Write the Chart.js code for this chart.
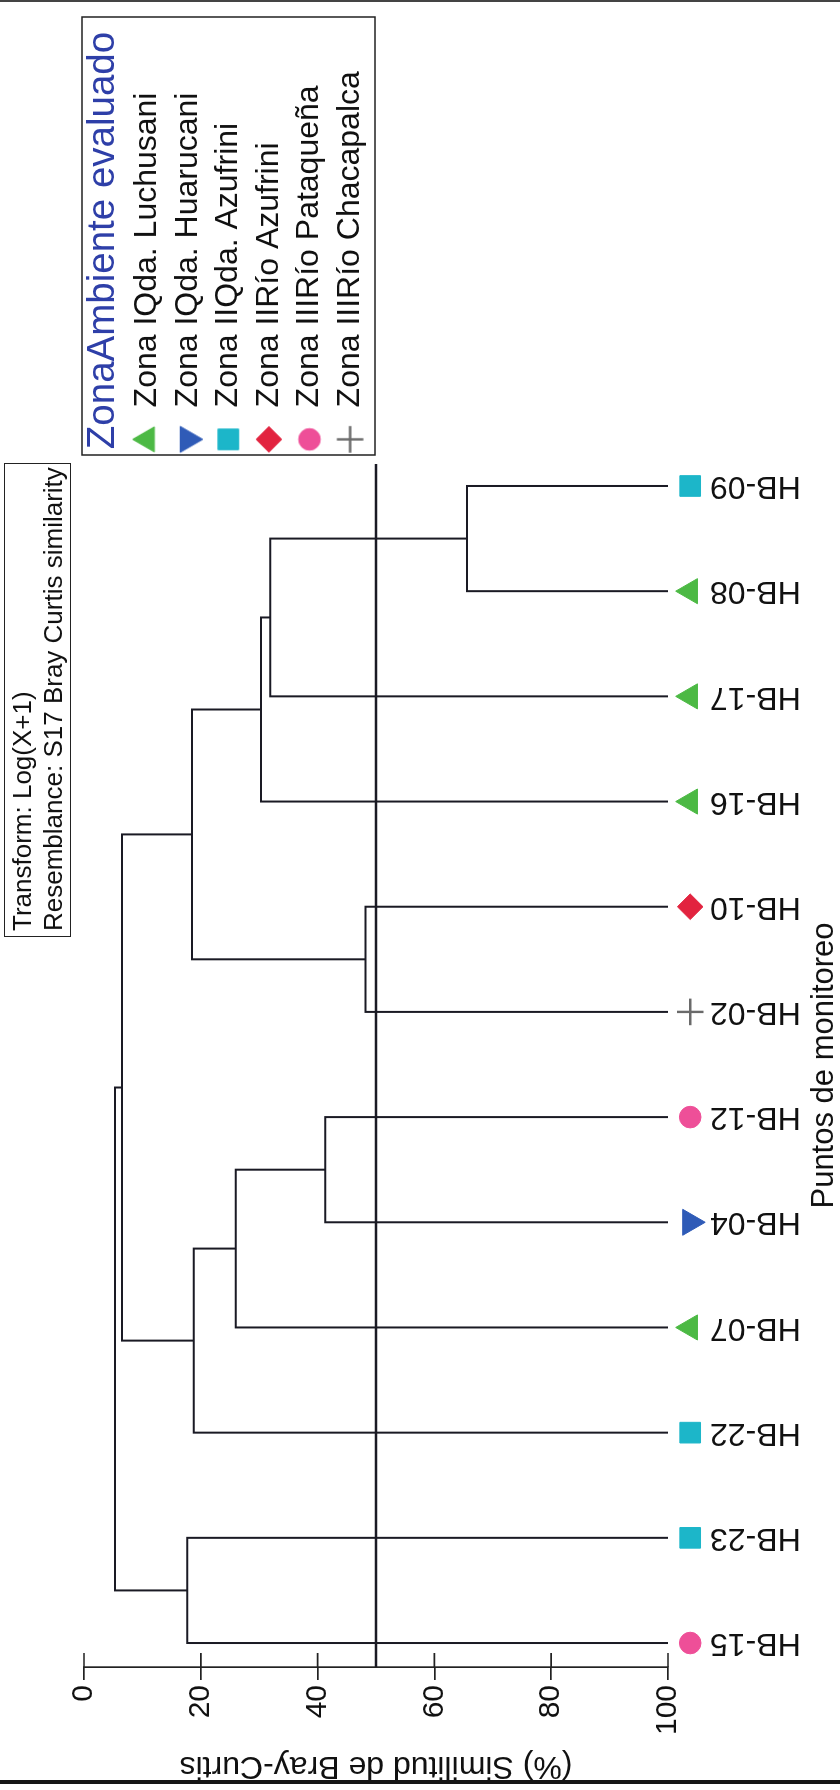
<!DOCTYPE html>
<html>
<head>
<meta charset="utf-8">
<script src="https://cdn.jsdelivr.net/npm/chart.js@4.4.1/dist/chart.umd.min.js"></script>
<style>
  html, body { margin: 0; padding: 0; background: #fff; width: 840px; height: 1790px; overflow: hidden; }
  #rot { position: absolute; left: 0; top: 0; width: 1790px; height: 840px;
         transform-origin: 0 0; transform: translate(0, 1790px) rotate(-90deg); }
  #box { position: absolute; left: 0; top: 0; width: 1790px; height: 840px; }
  #note { position: absolute; left: 853px; top: 4px; width: 474px; height: 67px; box-sizing: border-box;
          border: 1.5px solid #222; padding: 2px 0 0 5px; color: #111;
          font: 26px/31px 'Liberation Sans', Arial, Helvetica, sans-serif; white-space: nowrap; }
  .rule { position: absolute; left: 0; width: 840px; background: #161616; }
</style>
</head>
<body>
<div class="rule" style="top:0;height:2px;background:#444"></div>
<div id="rot">
  <div id="box"><canvas id="c"></canvas></div>
  <div id="note"><div id="n1"></div><div id="n2"></div></div>
</div>
<div class="rule" style="top:1780px;height:4px"></div>
<script>
// ---------- data ----------
const samples = ['HB-15','HB-23','HB-22','HB-07','HB-04','HB-12','HB-02','HB-10','HB-16','HB-17','HB-08','HB-09'];
const sampleZone = [4, 2, 2, 0, 1, 4, 5, 3, 0, 0, 0, 2];
const zoneNames = ['Zona IQda. Luchusani', 'Zona IQda. Huarucani', 'Zona IIQda. Azufrini',
                   'Zona IIRío Azufrini', 'Zona IIIRío Pataqueña', 'Zona IIIRío Chacapalca'];
// merges: node A + node B joined at similarity (leaves 0..11, merge k creates node 12+k)
const mergeA   = [10,  9,    8,    6,    15,   4,    3,    2,    19,  0,    21];
const mergeB   = [11,  12,   13,   7,    14,   5,    17,   18,   16,  1,    20];
const mergeSim = [65.6, 31.9, 30.3, 48.2, 18.5, 41.3, 26.0, 18.8, 6.5, 17.7, 5.3];
const cutLevel = 50;
const simTicks = [0, 20, 40, 60, 80, 100];
const leafLevel = 100;
const markerLevel = 103.8;
const legendTitle = 'ZonaAmbiente evaluado';
const noteLines = ['Transform: Log(X+1)', 'Resemblance: S17 Bray Curtis similarity'];
const yTitle = '(%) Similitud de Bray-Curtis';
const xTitle = 'Puntos de monitoreo';

// ---------- styles ----------
const zoneColors = ['#4cb944', '#2f5bb7', '#1cb6c9', '#e2233f', '#ee4f98', '#6a6a6a'];
const zoneShapes = ['triangle', 'triangle', 'rect', 'rectRot', 'circle', 'cross'];
const zoneRotation = [0, 180, 0, 0, 0, 0];
const zoneRadius = [14.5, 15, 14.6, 12.8, 10.8, 13.3];
const zoneBorder = [1, 1, 1, 1, 1, 2.4];
const lineColor = '#1a1a24';
const xMin = -0.228, xMax = 11.209;

document.getElementById('n1').textContent = noteLines[0];
document.getElementById('n2').textContent = noteLines[1];

Chart.defaults.font.family = "'Liberation Sans', Arial, Helvetica, sans-serif";
Chart.defaults.color = '#111';

// legend marker images drawn with the library's point helper
function legendMarker(i) {
  if (!Chart.helpers || !Chart.helpers.drawPoint) return zoneShapes[i];
  const r = zoneRadius[i], size = Math.ceil(2 * r + 8);
  const cv = document.createElement('canvas');
  cv.width = size; cv.height = size;
  const c = cv.getContext('2d');
  c.fillStyle = zoneColors[i]; c.strokeStyle = zoneColors[i]; c.lineWidth = zoneBorder[i];
  Chart.helpers.drawPoint(c, {pointStyle: zoneShapes[i], rotation: zoneRotation[i], radius: r, borderWidth: zoneBorder[i]}, size / 2, size / 2);
  return cv;
}

// node positions
const nodeX = samples.map((_, i) => i);
const nodeLevel = samples.map(() => leafLevel);
const datasets = [];
mergeA.forEach((a, k) => {
  const b = mergeB[k], s = mergeSim[k];
  datasets.push({
    type: 'line',
    data: [{x: nodeX[a], y: nodeLevel[a]}, {x: nodeX[a], y: s}, {x: nodeX[b], y: s}, {x: nodeX[b], y: nodeLevel[b]}],
    borderColor: lineColor, borderWidth: 2, pointRadius: 0, fill: false, tension: 0
  });
  nodeX.push((nodeX[a] + nodeX[b]) / 2);
  nodeLevel.push(s);
});
datasets.push({
  type: 'line',
  data: [{x: xMin, y: cutLevel}, {x: xMax, y: cutLevel}],
  borderColor: lineColor, borderWidth: 2.3, pointRadius: 0, fill: false
});
const markerIndex = datasets.length;
datasets.push({
  type: 'scatter',
  data: samples.map((_, i) => ({x: i, y: markerLevel})),
  pointStyle: sampleZone.map(z => zoneShapes[z]),
  pointRotation: sampleZone.map(z => zoneRotation[z]),
  pointRadius: sampleZone.map(z => zoneRadius[z]),
  pointBackgroundColor: sampleZone.map(z => zoneColors[z]),
  pointBorderColor: sampleZone.map(z => zoneColors[z]),
  pointBorderWidth: sampleZone.map(z => zoneBorder[z]),
  showLine: false,
  clip: false
});

const legendW = 447;
const helper = {
  id: 'helper',
  afterInit(chart) {
    const lg = chart.legend;
    const fit = lg.fit.bind(lg);
    lg.fit = function () { fit(); this.width = legendW; };
  },
  beforeDatasetDraw(chart, args) {
    if (args.index === markerIndex) {
      this._area = chart.chartArea;
      chart.chartArea = Object.assign({}, this._area, {bottom: this._area.bottom + 80});
    }
  },
  afterDatasetDraw(chart, args) {
    if (args.index === markerIndex && this._area) {
      chart.chartArea = this._area;
      this._area = null;
    }
  },
  afterDraw(chart) {
    const {ctx, legend: lg, scales: {y}} = chart;
    ctx.save();
    ctx.strokeStyle = '#222';
    ctx.lineWidth = 1.5;
    ctx.strokeRect(lg.left + 9, lg.top - 2, 438, 293);
    // inner half of the similarity ticks
    ctx.lineWidth = 1.7;
    ctx.beginPath();
    y.ticks.forEach(t => {
      const p = y.getPixelForValue(t.value);
      ctx.moveTo(y.right, p);
      ctx.lineTo(y.right + 14, p);
    });
    ctx.stroke();
    ctx.restore();
  }
};

new Chart(document.getElementById('c'), {
  data: {datasets},
  options: {
    responsive: true, maintainAspectRatio: false, animation: false, devicePixelRatio: 1,
    events: [],
    layout: {padding: {top: 84, right: 17, bottom: 0, left: 0}},
    scales: {
      x: {
        type: 'linear', min: xMin, max: xMax,
        afterBuildTicks: s => { s.ticks = samples.map((_, i) => ({value: i})); },
        ticks: {autoSkip: false, minRotation: 90, maxRotation: 90, padding: 42,
                font: {size: 32}, color: '#111', callback: v => samples[v]},
        grid: {display: false, drawTicks: false},
        border: {display: false},
        title: {display: true, text: xTitle, font: {size: 31, lineHeight: 1}, padding: 0, color: '#111'},
        afterFit: s => { s.height = 172; }
      },
      y: {
        type: 'linear', min: 0, max: 100, reverse: true,
        afterBuildTicks: s => { s.ticks = simTicks.map(v => ({value: v})); },
        ticks: {font: {size: 30}, color: '#111', padding: 5},
        grid: {drawOnChartArea: false, tickLength: 13, color: '#222', lineWidth: 1.7},
        border: {color: '#222', width: 1.7},
        title: {display: true, text: yTitle, font: {size: 32, lineHeight: 1}, padding: {top: 8, bottom: 0}, color: '#111'},
        afterFit: s => { s.width = 123; }
      }
    },
    plugins: {
      tooltip: {enabled: false},
      legend: {
        display: true, position: 'right', align: 'start', fullSize: false,
        onClick: null,
        title: {display: true, text: legendTitle, color: '#2e3fa8', position: 'center',
                font: {size: 38.5, lineHeight: 1}, padding: {top: 0, bottom: 0}},
        labels: {
          usePointStyle: true, boxHeight: 19.8, padding: 8.6, font: {size: 32}, color: '#111',
          generateLabels: () => zoneNames.map((name, i) => ({
            text: name, fillStyle: zoneColors[i], strokeStyle: zoneColors[i],
            lineWidth: zoneBorder[i], pointStyle: legendMarker(i),
            rotation: 0, hidden: false, fontColor: '#111'
          }))
        }
      }
    }
  },
  plugins: [helper]
});
</script>
</body>
</html>
